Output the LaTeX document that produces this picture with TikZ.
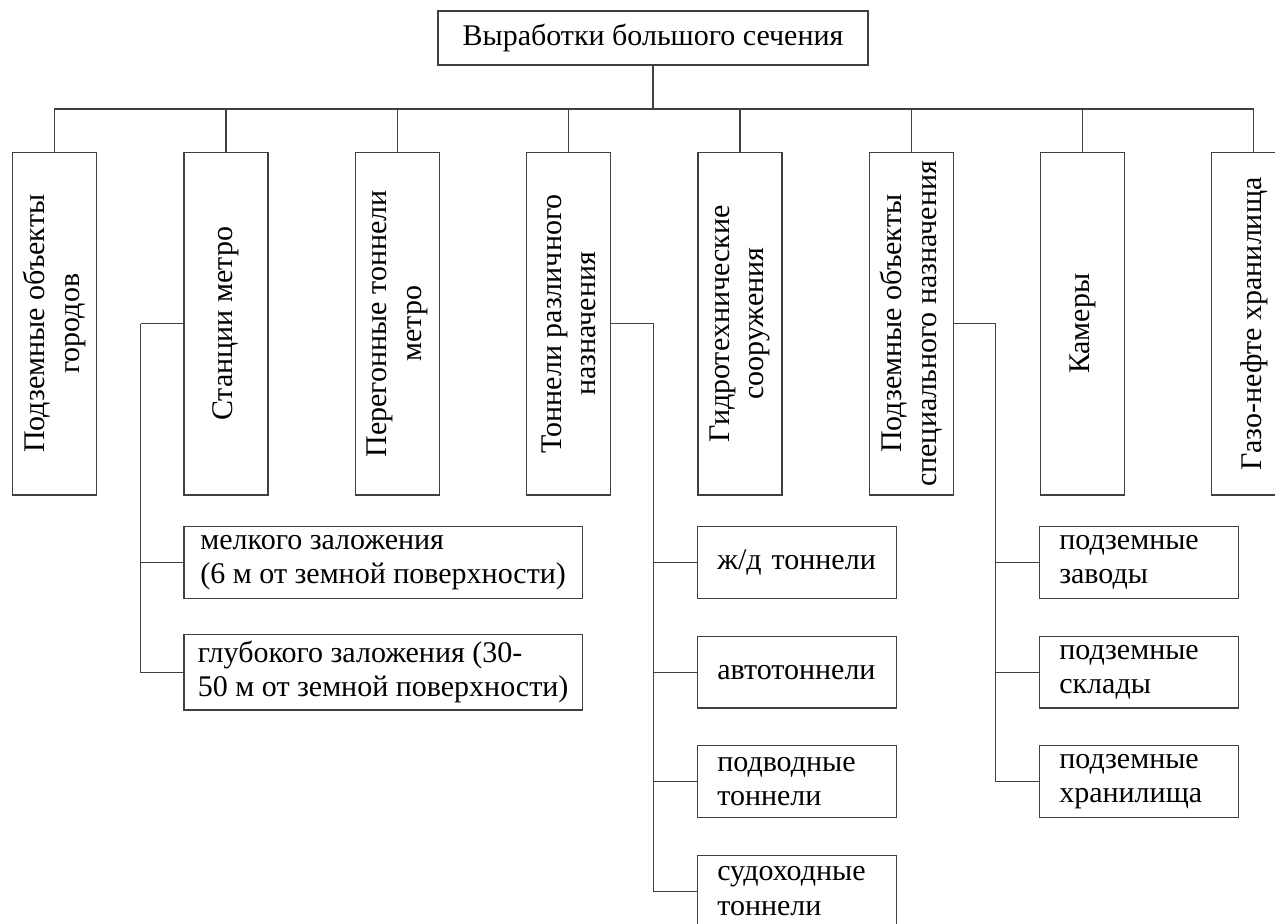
\documentclass[tikz,border=0pt]{standalone}
\usepackage{fontspec}
\setmainfont{Liberation Serif}
\begin{document}
\begin{tikzpicture}[x=0.5pt,y=-0.5pt,
    every node/.style={font=\fontsize{15}{17.25}\selectfont},
    link/.style={draw=black!75,line width=0.6pt},
    head/.style={link,minimum width=215pt,minimum height=27pt,inner sep=0pt},
    kind/.style={link,rotate=90,minimum width=171.15pt,minimum height=42pt,inner sep=0pt,align=center},
    sub/.style={link,minimum height=35.8pt,inner xsep=10pt,text width=79.5pt,align=left},
    wide/.style={link,minimum height=35.8pt,minimum width=199.15pt,inner xsep=0pt,align=left}]
    \useasboundingbox (0,0) rectangle (1275,924);
    \node[head] (v) at (653,38) {Выработки большого сечения};
    \coordinate (bus) at (653,109);
    \node[kind] (k1) at (54.7,323.8) {Подземные объекты\\городов};
    \node[kind] (k2) at (226,323.8) {Станции метро};
    \node[kind] (k3) at (397.3,323.8) {Перегонные тоннели\\метро};
    \node[kind] (k4) at (568.6,323.8) {Тоннели различного\\назначения};
    \node[kind] (k5) at (739.9,323.8) {Гидротехнические\\сооружения};
    \node[kind] (k6) at (911.2,323.8) {Подземные объекты\\специального назначения};
    \node[kind] (k7) at (1082.5,323.8) {Камеры};
    \node[kind] (k8) at (1253.8,323.8) {Газо-нефте хранилища};
    \coordinate (sm) at (140.7,323.8);
    \coordinate (tn) at (653.7,323.8);
    \coordinate (sp) at (995.7,323.8);
    \node[wide] (m1) at (383.2,562.5) {мелкого заложения\\(6 м от земной поверхности)};
    \node[wide] (m2) at (383.2,672.2) {глубокого заложения (30-\\50 м от земной поверхности)};
    \node[sub] (t1) at (796.8,562.5) {ж/д тоннели};
    \node[sub] (t2) at (796.8,672.2) {автотоннели};
    \node[sub] (t3) at (796.8,781.7) {подводные\\тоннели};
    \node[sub] (t4) at (796.8,891.3) {судоходные\\тоннели};
    \node[sub] (p1) at (1138.8,562.5) {подземные\\заводы};
    \node[sub] (p2) at (1138.8,672.2) {подземные\\склады};
    \node[sub] (p3) at (1138.8,781.7) {подземные\\хранилища};
    \draw[link] (v) -- (bus);
    \foreach \i in {1,...,8}
        \draw[link] (bus) -| (k\i);
    \draw[link] (k2) -- (sm);
    \foreach \i in {1,2}
        \draw[link] (sm) |- (m\i);
    \draw[link] (k4) -- (tn);
    \foreach \i in {1,...,4}
        \draw[link] (tn) |- (t\i);
    \draw[link] (k6) -- (sp);
    \foreach \i in {1,...,3}
        \draw[link] (sp) |- (p\i);
\end{tikzpicture}
\end{document}
